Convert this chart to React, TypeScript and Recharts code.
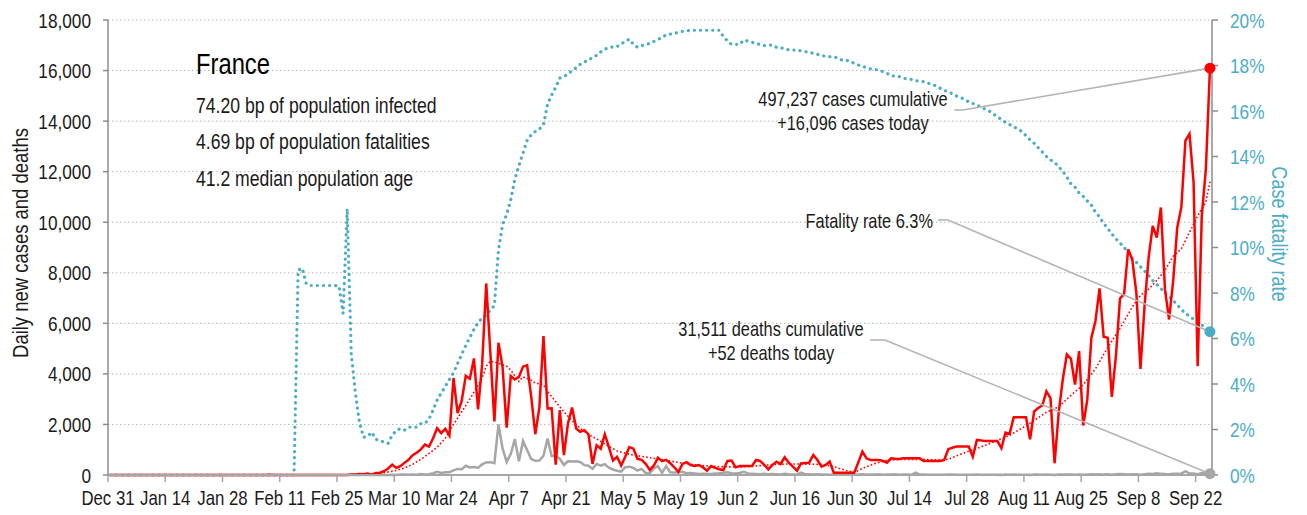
import React from 'react';
import { ComposedChart, Line, XAxis, YAxis, CartesianGrid, ReferenceDot, ReferenceLine } from 'recharts';

const W = 1307;
const H = 515;
const FONT = "'Liberation Sans', Arial, sans-serif";
const SX = 0.82; // horizontal condensing of all texts
const RED = '#ff0000';
const GREY = '#a6a6a6';
const BLUE = '#4bacc6';
const TEXT = '#1a1a1a';

// Date labels, every 14 days starting Dec 31
const tickLabels = [
  'Dec 31', 'Jan 14', 'Jan 28', 'Feb 11', 'Feb 25', 'Mar 10', 'Mar 24', 'Apr 7', 'Apr 21', 'May 5',
  'May 19', 'Jun 2', 'Jun 16', 'Jun 30', 'Jul 14', 'Jul 28', 'Aug 11', 'Aug 25', 'Sep 8', 'Sep 22',
];
const leftTicks = [0, 2000, 4000, 6000, 8000, 10000, 12000, 14000, 16000, 18000];
const rightTicks = [0, 2, 4, 6, 8, 10, 12, 14, 16, 18, 20];

// Daily new cases, one per day from Dec 31
const cases = [
  0, 0, 0, 0, 0, 0, 0, 0, 0, 0,
  0, 0, 0, 0, 0, 0, 0, 0, 0, 0,
  0, 0, 0, 0, 0, 3, 0, 0, 1, 0,
  1, 0, 1, 0, 0, 0, 0, 0, 0, 5,
  0, 0, 0, 0, 0, 0, 0, 1, 0, 0,
  0, 0, 0, 0, 0, 0, 0, 2, 3, 21,
  19, 43, 30, 61, 13, 84, 92, 150, 260, 413,
  280, 346, 480, 600, 786, 880, 1013, 1200, 1120, 1453,
  1853, 1653, 1826, 1560, 3838, 2446, 2931, 3922, 3809, 4611,
  2599, 4376, 7578, 4861, 2116, 5233, 4267, 1873, 3912, 3777,
  3881, 4286, 4342, 3114, 1613, 2673, 5497, 2633, 2641, 405,
  2569, 785, 2051, 2667, 1840, 1706, 1773, 1613, 440, 1173,
  1040, 1613, 1106, 573, 720, 373, 720, 1106, 1040, 640,
  600, 440, 200, 373, 680, 547, 600, 466, 306, 120,
  440, 506, 396, 356, 396, 303, 172, 356, 280, 230,
  198, 560, 568, 303, 356, 356, 356, 356, 594, 554,
  400, 224, 400, 528, 436, 700, 488, 330, 172, 462,
  475, 488, 792, 594, 330, 400, 528, 92, 92, 92,
  92, 92, 92, 500, 924, 660, 594, 594, 594, 560,
  488, 660, 640, 634, 660, 660, 660, 660, 660, 554,
  554, 554, 554, 556, 595, 1019, 1080, 1125, 1125, 1125,
  1125, 728, 1389, 1370, 1350, 1350, 1350, 1350, 1058, 1680,
  1627, 2289, 2289, 2289, 2289, 1416, 2514, 2650, 2750, 3307,
  3043, 463, 2451, 3776, 4770, 4598, 3578, 4903, 1961, 2981,
  5433, 6095, 7380, 5472, 5433, 3087, 4704, 6983, 7155, 8930,
  8533, 7210, 4194, 6681, 8600, 9856, 9393, 10584, 7343, 6152,
  7673, 9790, 10584, 13230, 13495, 11576, 4300, 10253, 12105, 16096,
];

// Daily new deaths, one per day from Dec 31
const deaths = [
  0, 0, 0, 0, 0, 0, 0, 0, 0, 0,
  0, 0, 0, 0, 0, 0, 0, 0, 0, 0,
  0, 0, 0, 0, 0, 0, 0, 0, 0, 0,
  0, 0, 0, 0, 0, 0, 0, 0, 0, 0,
  0, 0, 0, 0, 0, 0, 1, 0, 0, 0,
  0, 0, 0, 0, 0, 0, 0, 0, 1, 0,
  0, 0, 0, 1, 0, 2, 3, 2, 0, 11,
  3, 15, 15, 13, 18, 12, 36, 21, 27, 69,
  128, 78, 112, 112, 186, 240, 231, 365, 299, 319,
  292, 418, 499, 509, 471, 2004, 1053, 518, 833, 1417,
  541, 1341, 987, 635, 561, 574, 762, 1438, 753, 761,
  642, 395, 547, 531, 544, 516, 389, 369, 242, 437,
  367, 427, 289, 218, 166, 135, 306, 330, 278, 178,
  243, 80, 70, 263, 348, 83, 351, 104, 96, 110,
  130, 70, 80, 60, 40, 45, 35, 40, 60, 70,
  90, 110, 70, 60, 80, 130, 60, 50, 40, 30,
  50, 30, 40, 30, 20, 50, 30, 20, 15, 90,
  30, 25, 20, 25, 15, 20, 10, 5, 5, 5,
  5, 5, 5, 20, 30, 15, 15, 20, 25, 10,
  15, 20, 30, 10, 15, 15, 10, 90, 20, 15,
  10, 10, 14, 10, 10, 15, 20, 10, 10, 12,
  14, 10, 15, 10, 10, 12, 10, 10, 5, 15,
  10, 20, 10, 12, 10, 5, 15, 20, 10, 15,
  10, 5, 20, 15, 20, 15, 10, 20, 10, 20,
  25, 20, 30, 15, 25, 10, 30, 40, 30, 20,
  25, 30, 10, 30, 50, 40, 70, 45, 35, 30,
  45, 50, 60, 150, 55, 60, 30, 80, 50, 52,
];

// Cases trend (dotted red), read at these day indices
const trendDays = [
  0, 58, 61, 64, 66, 68, 70, 72, 74, 76,
  78, 80, 82, 84, 86, 88, 90, 91, 92, 93,
  95, 97, 98, 100, 101, 103, 104, 106, 107, 109,
  111, 113, 115, 117, 119, 121, 124, 127, 131, 136,
  140, 144, 149, 154, 158, 162, 166, 170, 174, 177,
  180, 182, 184, 187, 190, 194, 199, 203, 205, 208,
  212, 216, 220, 223, 225, 229, 232, 235, 238, 241,
  244, 247, 250, 252, 254, 256, 258, 260, 262, 264,
  266, 268, 269,
];
const trendValues = [
  0, 0, 20, 40, 70, 120, 180, 280, 420, 620,
  850, 1100, 1450, 2000, 2500, 3000, 3550, 3850, 4300, 4500,
  4420, 4300, 4150, 3700, 3880, 3750, 3640, 3570, 3300, 2900,
  2500, 2150, 1850, 1600, 1430, 1230, 950, 820, 710, 580,
  470, 380, 335, 310, 360, 410, 440, 430, 420, 330,
  180, 100, 260, 450, 580, 620, 620, 590, 620, 820,
  1050, 1300, 1570, 1850, 2050, 2480, 2700, 3150, 3570, 4200,
  5050, 5800, 6650, 7100, 7350, 7700, 8100, 8650, 8950, 9600,
  10250, 10800, 11600,
];

// Case fatality rate (%), read at these day indices
const cfrDays = [
  0, 45, 46, 47, 48, 49, 55, 56, 57, 58,
  59, 60, 61, 62, 63, 64, 65, 66, 67, 68,
  69, 70, 71, 72, 73, 74, 75, 76, 77, 78,
  79, 80, 81, 82, 83, 84, 85, 86, 87, 88,
  89, 90, 91, 92, 93, 94, 95, 96, 97, 98,
  99, 100, 101, 102, 103, 104, 105, 106, 107, 108,
  109, 110, 111, 112, 113, 114, 115, 116, 117, 118,
  119, 120, 121, 122, 124, 125, 127, 128, 129, 131,
  132, 134, 135, 136, 138, 140, 142, 149, 150, 151,
  152, 154, 155, 157, 158, 160, 162, 163, 165, 166,
  168, 169, 171, 173, 174, 176, 177, 179, 180, 182,
  183, 185, 186, 188, 190, 191, 193, 194, 196, 197,
  199, 201, 202, 204, 205, 207, 208, 210, 212, 215,
  217, 219, 221, 223, 225, 226, 228, 229, 230, 231,
  232, 233, 234, 235, 236, 237, 238, 239, 240, 241,
  242, 243, 244, 245, 246, 247, 248, 249, 250, 251,
  252, 253, 254, 255, 256, 257, 258, 259, 260, 261,
  262, 263, 264, 265, 266, 267, 268, 269,
];
const cfrValues = [
  0, 0, 9.0, 9.09, 8.4, 8.33, 8.33, 8.3, 7.1, 11.7,
  5.3, 3.6, 2.3, 1.66, 1.7, 1.88, 1.57, 1.5, 1.45, 1.39,
  1.75, 1.95, 2.04, 1.97, 2.1, 2.12, 2.1, 2.25, 2.27, 2.45,
  2.85, 3.3, 3.6, 3.9, 4.2, 4.5, 4.9, 5.3, 5.7, 6.05,
  6.4, 6.7, 6.9, 7.03, 7.25, 7.45, 9.9, 11.0, 11.46, 12.1,
  13.0, 13.6, 14.15, 14.7, 14.95, 15.1, 15.21, 15.4, 16.3, 16.7,
  17.05, 17.45, 17.52, 17.62, 17.78, 17.9, 18.05, 18.15, 18.25, 18.34,
  18.45, 18.6, 18.71, 18.8, 18.83, 18.95, 19.16, 18.93, 18.8, 18.93,
  18.97, 19.15, 19.22, 19.35, 19.41, 19.5, 19.55, 19.55, 19.27, 19.08,
  18.93, 18.93, 19.12, 19.02, 18.97, 18.87, 18.9, 18.8, 18.75, 18.68,
  18.68, 18.64, 18.58, 18.49, 18.43, 18.39, 18.39, 18.24, 18.24, 18.1,
  18.02, 17.9, 17.85, 17.8, 17.66, 17.55, 17.51, 17.44, 17.39, 17.33,
  17.29, 17.17, 17.1, 16.9, 16.85, 16.66, 16.6, 16.4, 16.26, 16.0,
  15.75, 15.5, 15.31, 15.1, 14.73, 14.58, 14.2, 14.0, 13.85, 13.75,
  13.55, 13.35, 13.1, 12.8, 12.65, 12.4, 12.25, 12.05, 11.87, 11.55,
  11.35, 11.06, 10.84, 10.6, 10.38, 10.2, 10.0, 9.8, 9.5, 9.35,
  9.16, 8.97, 8.77, 8.55, 8.38, 8.2, 8.0, 7.85, 7.67, 7.48,
  7.28, 7.1, 6.99, 6.84, 6.76, 6.6, 6.45, 6.3,
];

const rows = cases.map((c, i) => ({ x: i + 0.5, cases: c, deaths: deaths[i] }));
const trendRows = trendDays.map((d, i) => ({ x: d + 0.5, trend: trendValues[i] }));
const cfrRows = cfrDays.map((d, i) => ({ x: d + 0.5, cfr: cfrValues[i] }));
const lastIdx = cases.length - 1;
const lastX = lastIdx + 0.5;
const lastCfr = cfrValues[cfrValues.length - 1];
const tickDays = tickLabels.map((_, i) => i * 14);

const leader = { stroke: '#b4b4b4', strokeWidth: 1.6 };

// Condensed text: regular font squeezed horizontally
function CText(props: any) {
  const { x, y, sx = SX, rotate = 0, children, ...rest } = props;
  const t = `translate(${x},${y})${rotate ? ` rotate(${rotate})` : ''} scale(${sx},1)`;
  return (
    <text transform={t} fontFamily={FONT} {...rest}>
      {children}
    </text>
  );
}

const makeTick = (anchor: string, fill: string, fontSize: number, dy: string, fmt: (v: number) => string) =>
  function Tick(props: any) {
    const { x, y, payload } = props;
    return (
      <CText x={x} y={y} textAnchor={anchor} fill={fill} fontSize={fontSize} dy={dy}>
        {fmt(payload.value)}
      </CText>
    );
  };

const XTick = makeTick('middle', TEXT, 20.5, '0.71em', (v) => tickLabels[Math.round(v / 14)]);
const LTick = makeTick('end', TEXT, 21, '0.36em', (v) => v.toLocaleString('en-US'));
const RTick = makeTick('start', BLUE, 21, '0.36em', (v) => `${v}%`);

export default function App() {
  return (
    <div style={{ position: 'absolute', left: 0, top: 0, width: W, height: H, background: '#fff' }}>
      <ComposedChart width={W} height={H} data={rows} margin={{ top: 20, right: 0, bottom: 0, left: 0 }}>
        <CartesianGrid yAxisId="left" vertical={false} stroke="#b8b8b8" strokeDasharray="1.5 2.5" />
        <XAxis
          dataKey="x"
          type="number"
          domain={[0, 270]}
          ticks={tickDays}
          interval={0}
          allowDataOverflow
          height={40}
          tickSize={7}
          tickMargin={8}
          axisLine={{ stroke: GREY, strokeWidth: 2 }}
          tickLine={{ stroke: GREY, strokeWidth: 1.5 }}
          tick={<XTick />}
        />
        <YAxis
          yAxisId="left"
          domain={[0, 18000]}
          ticks={leftTicks}
          interval={0}
          width={108}
          tickSize={5}
          tickMargin={12}
          axisLine={{ stroke: '#8c8c8c', strokeWidth: 1.5 }}
          tickLine={{ stroke: '#8c8c8c', strokeWidth: 1.5 }}
          tick={<LTick />}
        />
        <YAxis
          yAxisId="right"
          orientation="right"
          domain={[0, 20]}
          ticks={rightTicks}
          interval={0}
          width={95}
          tickSize={6}
          tickMargin={12}
          axisLine={{ stroke: '#8c8c8c', strokeWidth: 1.5 }}
          tickLine={{ stroke: '#8c8c8c', strokeWidth: 1.5 }}
          tick={<RTick />}
        />
        <Line
          yAxisId="right"
          data={cfrRows}
          dataKey="cfr"
          type="linear"
          stroke={BLUE}
          strokeWidth={3.2}
          strokeDasharray="0.1 6"
          strokeLinecap="round"
          dot={false}
          isAnimationActive={false}
        />
        <Line yAxisId="left" dataKey="deaths" type="linear" stroke={GREY} strokeWidth={2.5} dot={false} isAnimationActive={false} />
        <Line
          yAxisId="left"
          data={trendRows}
          dataKey="trend"
          type="linear"
          stroke={RED}
          strokeWidth={1.6}
          strokeDasharray="1.6 2.2"
          dot={false}
          isAnimationActive={false}
        />
        <Line yAxisId="left" dataKey="cases" type="linear" stroke={RED} strokeWidth={2.5} dot={false} isAnimationActive={false} />

        <ReferenceLine yAxisId="left" segment={[{ x: 207, y: 14440 }, { x: 209, y: 14440 }]} {...leader} />
        <ReferenceLine yAxisId="left" segment={[{ x: 209, y: 14440 }, { x: lastX, y: cases[lastIdx] }]} {...leader} />
        <ReferenceLine yAxisId="right" segment={[{ x: 203, y: 11.21 }, { x: 205.4, y: 11.21 }]} {...leader} />
        <ReferenceLine yAxisId="right" segment={[{ x: 205.4, y: 11.21 }, { x: lastX, y: lastCfr }]} {...leader} />
        <ReferenceLine yAxisId="left" segment={[{ x: 186.4, y: 5340 }, { x: 190, y: 5340 }]} {...leader} />
        <ReferenceLine yAxisId="left" segment={[{ x: 190, y: 5340 }, { x: lastX, y: deaths[lastIdx] }]} {...leader} />

        <ReferenceDot yAxisId="left" x={lastX} y={cases[lastIdx]} r={5.5} fill={RED} stroke="none" />
        <ReferenceDot yAxisId="right" x={lastX} y={lastCfr} r={5.5} fill={BLUE} stroke="none" />
        <ReferenceDot yAxisId="left" x={lastX} y={deaths[lastIdx]} r={5.5} fill={GREY} stroke="none" />
      </ComposedChart>
      <svg width={W} height={H} style={{ position: 'absolute', left: 0, top: 0, pointerEvents: 'none' }}>
        <CText x={196} y={74} fontSize={29} fill="#000">France</CText>
        <CText x={196} y={112.5} fontSize={22} sx={0.8} fill={TEXT}>74.20 bp of population infected</CText>
        <CText x={196} y={149} fontSize={22} sx={0.8} fill={TEXT}>4.69 bp of population fatalities</CText>
        <CText x={196} y={186} fontSize={22} sx={0.8} fill={TEXT}>41.2 median population age</CText>

        <CText x={853} y={106} fontSize={20} fill={TEXT} textAnchor="middle">497,237 cases cumulative</CText>
        <CText x={853} y={130} fontSize={20} fill={TEXT} textAnchor="middle">+16,096 cases today</CText>
        <CText x={933} y={228} fontSize={20} fill={TEXT} textAnchor="end">Fatality rate 6.3%</CText>
        <CText x={771} y={336} fontSize={20} fill={TEXT} textAnchor="middle">31,511 deaths cumulative</CText>
        <CText x={771} y={360} fontSize={20} fill={TEXT} textAnchor="middle">+52 deaths today</CText>

        <CText x={28} y={243} rotate={-90} sx={0.84} fontSize={22} fill={TEXT} textAnchor="middle">
          Daily new cases and deaths
        </CText>
        <CText x={1272} y={234} rotate={90} fontSize={22} fill={BLUE} textAnchor="middle">
          Case fatality rate
        </CText>
      </svg>
    </div>
  );
}
